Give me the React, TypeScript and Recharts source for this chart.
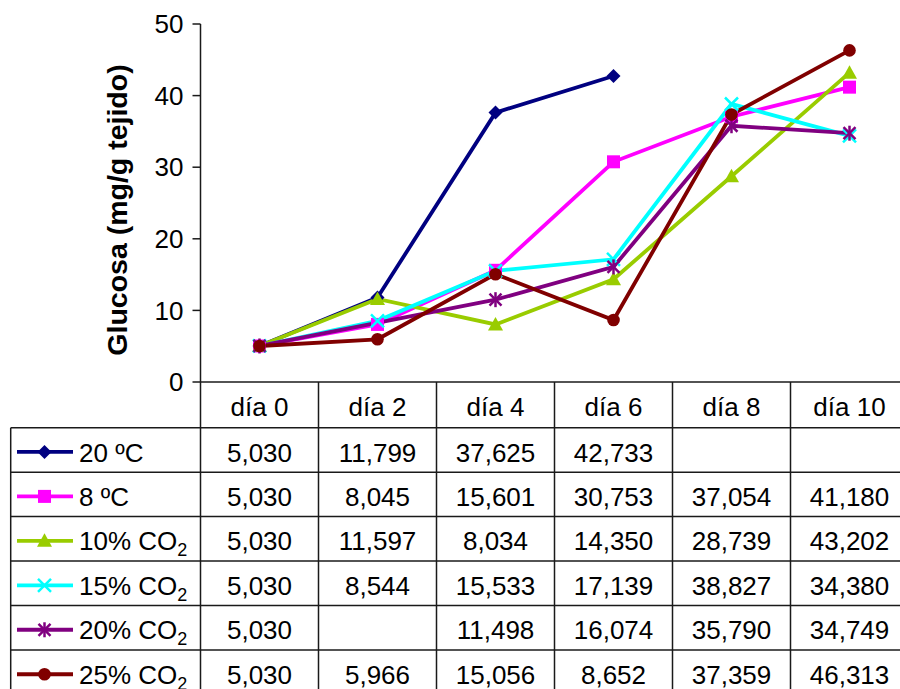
import React from 'react';
import { LineChart, Line, XAxis, YAxis } from 'recharts';

const days = ['día 0', 'día 2', 'día 4', 'día 6', 'día 8', 'día 10'];
const seriesNames = ['20 ºC', '8 ºC', '10% CO2', '15% CO2', '20% CO2', '25% CO2'];
const temp20 = [5.03, 11.799, 37.625, 42.733, null, null];
const temp8 = [5.03, 8.045, 15.601, 30.753, 37.054, 41.18];
const co2_10 = [5.03, 11.597, 8.034, 14.35, 28.739, 43.202];
const co2_15 = [5.03, 8.544, 15.533, 17.139, 38.827, 34.38];
const co2_20 = [5.03, null, 11.498, 16.074, 35.79, 34.749];
const co2_25 = [5.03, 5.966, 15.056, 8.652, 37.359, 46.313];
const yTicks = [0, 10, 20, 30, 40, 50];

const seriesValues = [temp20, temp8, co2_10, co2_15, co2_20, co2_25];
const colors = ['#000080', '#ff00ff', '#99cc00', '#00ffff', '#800080', '#800000'];
const shapes = ['diamond', 'square', 'triangle', 'cross', 'star', 'circle'];

const data = days.map((d, i) => {
  const row: any = { day: d };
  seriesValues.forEach((vals, s) => { row['s' + s] = vals[i]; });
  return row;
});

const COL = 118;
const ROW_TOP0 = 427.7;
const ROW_H = 44.46;
const TABLE_LEFT = 10.7;
const GRID = '#1a1a1a';
const FONT = 26;

const fmt = (v: number | null) => (v == null ? '' : v.toFixed(3).replace('.', ','));

function Marker({ shape, color, cx, cy }: any) {
  switch (shape) {
    case 'diamond':
      return <polygon points={`${cx},${cy - 7} ${cx + 7},${cy} ${cx},${cy + 7} ${cx - 7},${cy}`} fill={color} />;
    case 'square':
      return <rect x={cx - 6.5} y={cy - 6.5} width={13} height={13} fill={color} />;
    case 'triangle':
      return <polygon points={`${cx},${cy - 7.5} ${cx + 7.5},${cy + 6} ${cx - 7.5},${cy + 6}`} fill={color} />;
    case 'cross':
      return (
        <g stroke={color} strokeWidth={2.5}>
          <line x1={cx - 6.5} y1={cy - 6.5} x2={cx + 6.5} y2={cy + 6.5} />
          <line x1={cx - 6.5} y1={cy + 6.5} x2={cx + 6.5} y2={cy - 6.5} />
        </g>
      );
    case 'star':
      return (
        <g stroke={color} strokeWidth={2.5}>
          <line x1={cx - 6} y1={cy - 6} x2={cx + 6} y2={cy + 6} />
          <line x1={cx - 6} y1={cy + 6} x2={cx + 6} y2={cy - 6} />
          <line x1={cx} y1={cy - 7.5} x2={cx} y2={cy + 7.5} />
        </g>
      );
    default:
      return <circle cx={cx} cy={cy} r={6.3} fill={color} />;
  }
}

const makeDot = (s: number) => (p: any) => {
  const { cx, cy, index } = p;
  if (cx == null || cy == null || p.value == null || (Array.isArray(p.value) && p.value[1] == null)) {
    return <g key={'d' + s + '-' + index} />;
  }
  return (
    <g key={'d' + s + '-' + index}>
      <Marker shape={shapes[s]} color={colors[s]} cx={cx} cy={cy} />
    </g>
  );
};

function SeriesName({ name, x, y }: any) {
  if (name.endsWith('CO2')) {
    return (
      <text x={x} y={y} fontSize={FONT} fill="#000" dominantBaseline="central">
        {name.slice(0, -1)}
        <tspan dy={9} fontSize={18}>2</tspan>
      </text>
    );
  }
  return (
    <text x={x} y={y} fontSize={FONT} fill="#000" dominantBaseline="central">{name}</text>
  );
}

function TableColumn(props: any) {
  const { x, y } = props;
  const index = props.index ?? props.payload?.index ?? 0;
  const left = x - COL / 2;
  const right = x + COL / 2;
  const bottom = 720;
  const rowTops = seriesNames.map((_, s) => ROW_TOP0 + s * ROW_H);
  return (
    <g>
      <line x1={left} y1={y} x2={left} y2={bottom} stroke={GRID} strokeWidth={1.5} />
      {index === days.length - 1 && (
        <line x1={right} y1={y} x2={right} y2={bottom} stroke={GRID} strokeWidth={1.5} />
      )}
      <line x1={left} y1={ROW_TOP0} x2={right} y2={ROW_TOP0} stroke={GRID} strokeWidth={1.5} />
      {rowTops.map((t, s) => (
        <line key={'h' + s} x1={left} y1={t + ROW_H} x2={right} y2={t + ROW_H} stroke={GRID} strokeWidth={1.5} />
      ))}
      <text x={x} y={y + 24.5} textAnchor="middle" dominantBaseline="central" fontSize={FONT} fill="#000">
        {days[index]}
      </text>
      {rowTops.map((t, s) => (
        <text key={'v' + s} x={x} y={t + ROW_H / 2 + 2.6} textAnchor="middle" dominantBaseline="central" fontSize={FONT} fill="#000">
          {fmt(seriesValues[s][index])}
        </text>
      ))}
      {index === 0 && (
        <g>
          <line x1={TABLE_LEFT} y1={ROW_TOP0} x2={TABLE_LEFT} y2={bottom} stroke={GRID} strokeWidth={1.5} />
          <line x1={TABLE_LEFT} y1={ROW_TOP0} x2={left} y2={ROW_TOP0} stroke={GRID} strokeWidth={1.5} />
          {rowTops.map((t, s) => {
            const cy = t + ROW_H / 2;
            return (
              <g key={'l' + s}>
                <line x1={TABLE_LEFT} y1={t + ROW_H} x2={left} y2={t + ROW_H} stroke={GRID} strokeWidth={1.5} />
                <line x1={17} y1={cy + 2} x2={73} y2={cy + 2} stroke={colors[s]} strokeWidth={3.8} />
                <Marker shape={shapes[s]} color={colors[s]} cx={44.5} cy={cy + 2} />
                <SeriesName name={seriesNames[s]} x={79} y={cy + 2.6} />
              </g>
            );
          })}
        </g>
      )}
    </g>
  );
}

export default function App() {
  return (
    <div
      style={{
        position: 'absolute',
        left: 0,
        top: 0,
        width: 900,
        height: 689,
        overflow: 'hidden',
        background: '#fff',
        fontFamily: 'Arial, "Liberation Sans", sans-serif',
      }}
    >
      <LineChart width={912} height={689} data={data} margin={{ top: 24, right: 3.5, bottom: 0, left: 0 }}>
        <XAxis
          dataKey="day"
          height={307}
          interval={0}
          padding={{ left: 59, right: 59 }}
          tickLine={false}
          tickSize={0}
          tickMargin={0}
          axisLine={{ stroke: GRID, strokeWidth: 1.5 }}
          tick={(p: any) => <TableColumn {...p} />}
        />
        <YAxis
          width={200.5}
          domain={[0, 50]}
          ticks={yTicks}
          interval={0}
          tickSize={8}
          tickMargin={9}
          axisLine={{ stroke: GRID, strokeWidth: 1.5 }}
          tickLine={{ stroke: GRID, strokeWidth: 1.5 }}
          tick={{ fontSize: FONT, fill: '#000' }}
          label={{
            content: () => (
              <text
                x={117}
                y={210}
                transform="rotate(-90 117 210)"
                textAnchor="middle"
                dominantBaseline="central"
                fontSize={28.5}
                fontWeight="bold"
                fill="#000"
              >
                Glucosa (mg/g tejido)
              </text>
            ),
          }}
        />
        {seriesNames.map((name, s) => (
          <Line
            key={name}
            dataKey={'s' + s}
            name={name}
            stroke={colors[s]}
            strokeWidth={3.8}
            connectNulls
            dot={makeDot(s)}
            activeDot={false}
            isAnimationActive={false}
          />
        ))}
      </LineChart>
    </div>
  );
}
